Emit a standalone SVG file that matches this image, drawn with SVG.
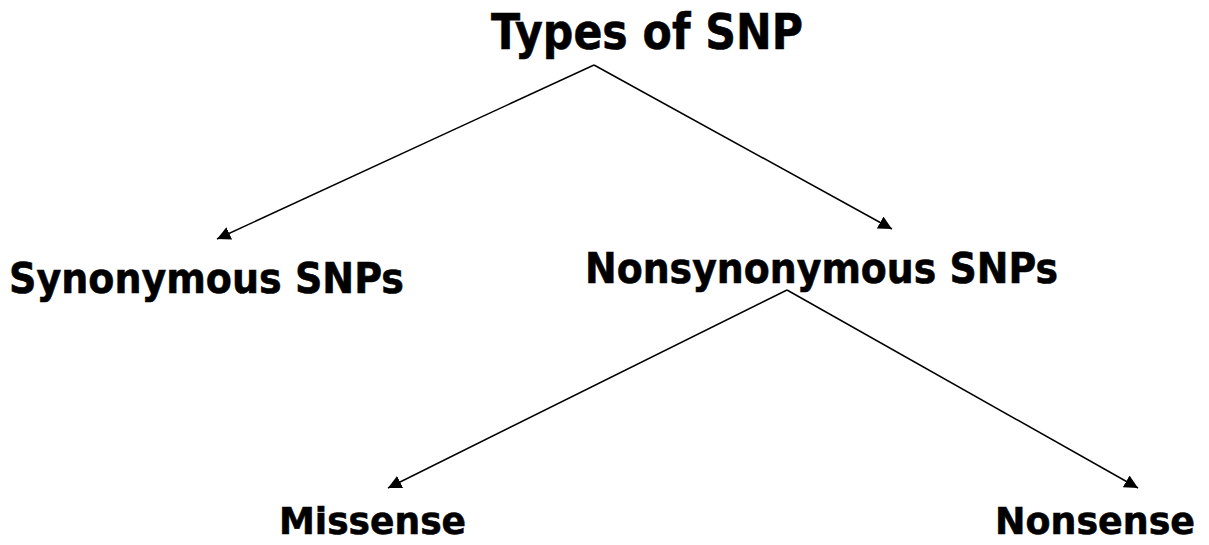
<svg xmlns="http://www.w3.org/2000/svg" width="1209" height="545" viewBox="0 0 1209 545">
  <style>
    .label { font-family: "DejaVu Sans", Verdana, sans-serif; font-weight: bold; fill: #000; stroke: #000; stroke-width: 0.6; }
    .edge { stroke: #000; stroke-width: 1.5; fill: none; marker-end: url(#arrow); }
  </style>
  <defs>
    <marker id="arrow" viewBox="0 0 12 12" refX="12" refY="6" markerWidth="9" markerHeight="9" markerUnits="strokeWidth" orient="auto">
      <path d="M0,0 L12,6 L0,12 Z" fill="#000"/>
    </marker>
  </defs>
  <rect width="1209" height="545" fill="#fff"/>

  <g id="connectors">
    <line class="edge" x1="594" y1="65" x2="217" y2="239"/>
    <line class="edge" x1="594" y1="65" x2="892" y2="229"/>
    <line class="edge" x1="787" y1="290" x2="388" y2="488"/>
    <line class="edge" x1="787" y1="290" x2="1138" y2="488"/>
  </g>

  <g id="types-of-snp">
    <text class="label" x="491" y="49" font-size="50" textLength="312" lengthAdjust="spacingAndGlyphs">Types of SNP</text>
  </g>
  <g id="synonymous">
    <text class="label" x="9" y="293" font-size="43" textLength="395" lengthAdjust="spacingAndGlyphs">Synonymous SNPs</text>
  </g>
  <g id="nonsynonymous">
    <text class="label" x="585" y="283" font-size="42" textLength="473" lengthAdjust="spacingAndGlyphs">Nonsynonymous SNPs</text>
  </g>
  <g id="missense">
    <text class="label" x="279" y="534" font-size="38" textLength="187" lengthAdjust="spacingAndGlyphs">Missense</text>
  </g>
  <g id="nonsense">
    <text class="label" x="995" y="534" font-size="38" textLength="200" lengthAdjust="spacingAndGlyphs">Nonsense</text>
  </g>
</svg>
